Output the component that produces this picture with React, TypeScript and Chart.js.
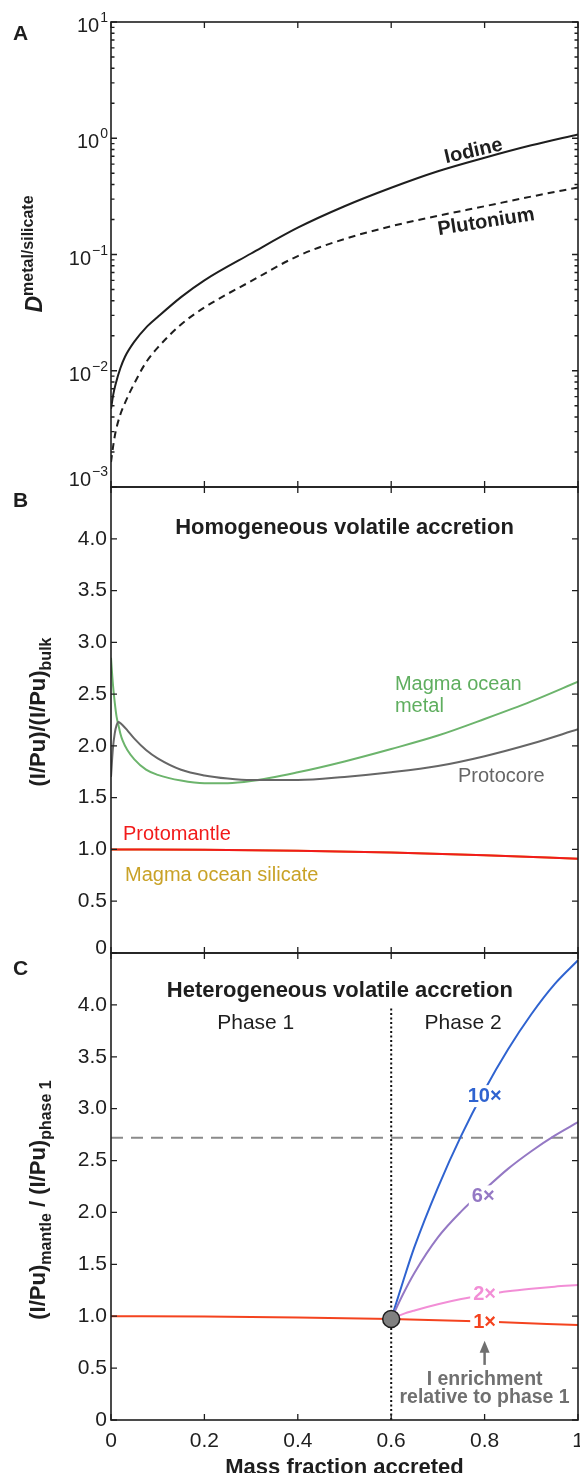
import React, { useEffect, useRef } from 'react';
import { Chart, registerables } from 'chart.js';

Chart.register(...registerables);

const FONT = '"Liberation Sans", Arial, Helvetica, sans-serif';
const INK = '#1e1e1e';

// ---------------- Panel A data ----------------
const massFractionA = [0, 0.005, 0.01, 0.02, 0.03, 0.05, 0.075, 0.1, 0.15, 0.2, 0.3, 0.4, 0.5, 0.6, 0.7, 0.8, 0.9, 1.0];
const iodineD = [0.0047, 0.0063, 0.0077, 0.0105, 0.0132, 0.0178, 0.0235, 0.029, 0.043, 0.06, 0.102, 0.17, 0.26, 0.375, 0.52, 0.68, 0.87, 1.08];
const plutoniumD = [0.00164, 0.0023, 0.003, 0.0042, 0.0053, 0.0078, 0.0118, 0.0158, 0.025, 0.035, 0.059, 0.097, 0.136, 0.175, 0.215, 0.26, 0.315, 0.377];
const logTickValues = [0.001, 0.01, 0.1, 1, 10];
const logTickExponents = ['\u22123', '\u22122', '\u22121', '0', '1'];

// ---------------- Panel B data ----------------
const massFractionB = [0, 0.004, 0.008, 0.012, 0.016, 0.02, 0.025, 0.035, 0.05, 0.075, 0.1, 0.15, 0.2, 0.25, 0.3, 0.4, 0.5, 0.6, 0.7, 0.8, 0.9, 1.0];
const magmaOceanMetal = [2.85, 2.6, 2.42, 2.28, 2.2, 2.12, 2.05, 1.96, 1.87, 1.77, 1.72, 1.665, 1.64, 1.64, 1.66, 1.745, 1.85, 1.97, 2.1, 2.26, 2.43, 2.62];
const protocore = [1.7, 1.97, 2.12, 2.2, 2.23, 2.22, 2.2, 2.15, 2.07, 1.96, 1.88, 1.77, 1.715, 1.685, 1.67, 1.67, 1.7, 1.745, 1.805, 1.9, 2.02, 2.16];
const massFractionMantle = [0, 0.2, 0.4, 0.6, 0.8, 1.0];
const protomantle = [1.0, 0.997, 0.987, 0.97, 0.945, 0.91];
const magmaOceanSilicate = [1.0, 0.997, 0.987, 0.97, 0.945, 0.91];

// ---------------- Panel C data ----------------
const massFractionPhase1 = [0, 0.2, 0.4, 0.6, 0.8, 1.0];
const mantle1x = [1.0, 0.997, 0.988, 0.973, 0.948, 0.915];
const massFractionPhase2 = [0.6, 0.625, 0.65, 0.7, 0.75, 0.8, 0.85, 0.9, 0.95, 1.0];
const mantle10x = [0.973, 1.33, 1.67, 2.24, 2.74, 3.18, 3.57, 3.91, 4.2, 4.43];
const mantle6x = [0.973, 1.21, 1.42, 1.76, 2.01, 2.22, 2.42, 2.59, 2.74, 2.87];
const mantle2x = [0.973, 1.02, 1.055, 1.115, 1.165, 1.205, 1.24, 1.265, 1.285, 1.3];
const referenceLevel = 2.72;
const phaseBoundary = 0.6;
const boundaryTop = 3.97;
const junctionValue = 0.973;

// ---------------- ticks ----------------
const xTicks = [0, 0.2, 0.4, 0.6, 0.8, 1];
const xTickLabels = ['0', '0.2', '0.4', '0.6', '0.8', '1'];
const ratioTicks = [0, 0.5, 1, 1.5, 2, 2.5, 3, 3.5, 4];
const ratioTickLabels = ['0', '0.5', '1.0', '1.5', '2.0', '2.5', '3.0', '3.5', '4.0'];

const pts = (xs: number[], ys: number[]) => xs.map((x, i) => ({ x, y: ys[i] }));
const lookup = (vals: number[], labels: string[], v: number) => {
  const i = vals.findIndex((t) => Math.abs(t - v) < 1e-9);
  return i >= 0 ? labels[i] : '';
};

function drawText(ctx: any, s: string, x: number, y: number, font: string, color: string, align = 'left', rot = 0, bg = false) {
  ctx.save();
  ctx.translate(x, y);
  if (rot) ctx.rotate((rot * Math.PI) / 180);
  ctx.font = font;
  ctx.textAlign = align;
  ctx.textBaseline = 'alphabetic';
  if (bg) {
    const w = ctx.measureText(s).width;
    const x0 = align === 'center' ? -w / 2 : align === 'right' ? -w : 0;
    ctx.fillStyle = '#ffffff';
    ctx.fillRect(x0 - 3, -17, w + 6, 22);
  }
  ctx.fillStyle = color;
  ctx.fillText(s, 0, 0);
  ctx.restore();
}

type Part = { t: string; font: string; dy: number };
function drawVTitle(ctx: any, parts: Part[], bx: number, cy: number) {
  ctx.save();
  let total = 0;
  const ws = parts.map((p) => {
    ctx.font = p.font;
    const w = ctx.measureText(p.t).width;
    total += w;
    return w;
  });
  ctx.translate(bx, cy);
  ctx.rotate(-Math.PI / 2);
  ctx.textAlign = 'left';
  ctx.textBaseline = 'alphabetic';
  ctx.fillStyle = INK;
  let u = -total / 2;
  parts.forEach((p, i) => {
    ctx.font = p.font;
    ctx.fillText(p.t, u, p.dy);
    u += ws[i];
  });
  ctx.restore();
}

function drawFrame(chart: any, yMajor: number[], yMinor: number[]) {
  const { ctx, chartArea: a } = chart;
  const sx = chart.scales.x;
  const sy = chart.scales.y;
  ctx.save();
  ctx.strokeStyle = INK;
  ctx.lineWidth = 1.3;
  ctx.beginPath();
  xTicks.forEach((v) => {
    const p = sx.getPixelForValue(v);
    ctx.moveTo(p, a.bottom);
    ctx.lineTo(p, a.bottom - 6);
    ctx.moveTo(p, a.top);
    ctx.lineTo(p, a.top + 6);
  });
  yMajor.forEach((v) => {
    const p = sy.getPixelForValue(v);
    ctx.moveTo(a.left, p);
    ctx.lineTo(a.left + 6, p);
    ctx.moveTo(a.right, p);
    ctx.lineTo(a.right - 6, p);
  });
  yMinor.forEach((v) => {
    const p = sy.getPixelForValue(v);
    ctx.moveTo(a.left, p);
    ctx.lineTo(a.left + 3.5, p);
    ctx.moveTo(a.right, p);
    ctx.lineTo(a.right - 3.5, p);
  });
  ctx.stroke();
  ctx.lineWidth = 1.6;
  ctx.strokeRect(a.left, a.top, a.right - a.left, a.bottom - a.top);
  ctx.restore();
}

const lineDs = (data: any[], color: string, extra: any = {}) => ({
  data,
  borderColor: color,
  backgroundColor: color,
  borderWidth: 2,
  pointRadius: 0,
  fill: false,
  cubicInterpolationMode: 'monotone',
  ...extra,
});

const baseOptions = (padding: any, scales: any) => ({
  responsive: false,
  animation: false,
  events: [],
  layout: { padding, autoPadding: false },
  plugins: { legend: { display: false }, tooltip: { enabled: false } },
  scales,
});

// skipZero: the lowest label of panel B is drawn by hand, nudged up off the shared frame
const ratioAxis = (skipZero: boolean) => ({
  type: 'linear',
  min: 0,
  max: 4.5,
  grid: { display: false, drawTicks: false },
  border: { display: false },
  ticks: {
    font: { family: FONT, size: 21 },
    color: INK,
    padding: 4,
    autoSkip: false,
    callback: (v: number) => (skipZero && v === 0 ? '' : lookup(ratioTicks, ratioTickLabels, v)),
  },
  afterBuildTicks: (s: any) => {
    s.ticks = ratioTicks.map((v) => ({ value: v }));
  },
  afterFit: (s: any) => {
    s.width = 111;
    s.paddingTop = 0;
    s.paddingBottom = 0;
  },
});

function buildA(canvas: HTMLCanvasElement) {
  const minor: number[] = [];
  for (let e = -3; e < 1; e++) for (let k = 2; k <= 9; k++) minor.push(k * Math.pow(10, e));
  return new Chart(canvas, {
    type: 'line',
    data: {
      datasets: [
        lineDs(pts(massFractionA, iodineD), INK),
        lineDs(pts(massFractionA, plutoniumD), INK, { borderDash: [7, 5] }),
      ],
    },
    options: baseOptions({ left: 111, right: 2, top: 22, bottom: 3 }, {
      x: { type: 'linear', min: 0, max: 1, display: false },
      y: { type: 'logarithmic', min: 0.001, max: 10, display: false },
    }),
    plugins: [
      {
        id: 'decoA',
        afterDatasetsDraw(chart: any) {
          const { ctx, chartArea: a } = chart;
          const sx = chart.scales.x;
          const sy = chart.scales.y;
          drawText(ctx, 'Iodine', sx.getPixelForValue(0.779), sy.getPixelForValue(0.8) + 7, `bold 20px ${FONT}`, INK, 'center', -13);
          drawText(ctx, 'Plutonium', sx.getPixelForValue(0.805), sy.getPixelForValue(0.196) + 7, `bold 20px ${FONT}`, INK, 'center', -9);
          drawFrame(chart, logTickValues, minor);
          logTickValues.forEach((v, i) => {
            const y = sy.getPixelForValue(v);
            const base = Math.min(y + 10, a.bottom - 1);
            ctx.save();
            ctx.font = `20px ${FONT}`;
            const w10 = ctx.measureText('10').width;
            ctx.font = `14px ${FONT}`;
            const we = ctx.measureText(logTickExponents[i]).width;
            const x0 = 107 - w10 - we;
            ctx.fillStyle = INK;
            ctx.textAlign = 'left';
            ctx.textBaseline = 'alphabetic';
            ctx.font = `20px ${FONT}`;
            ctx.fillText('10', x0, base);
            ctx.font = `14px ${FONT}`;
            ctx.fillText(logTickExponents[i], x0 + w10 + 1, base - 10);
            ctx.restore();
          });
          drawText(ctx, 'A', 13, 40, `bold 21px ${FONT}`, INK);
          drawVTitle(ctx, [
            { t: 'D', font: `italic bold 23px ${FONT}`, dy: 0 },
            { t: 'metal/silicate', font: `bold 16px ${FONT}`, dy: -9 },
          ], 42, 254);
        },
      },
    ],
  } as any);
}

function buildB(canvas: HTMLCanvasElement) {
  return new Chart(canvas, {
    type: 'line',
    data: {
      datasets: [
        lineDs(pts(massFractionMantle, protomantle), '#f21b1b', { order: 1 }),
        lineDs(pts(massFractionB, protocore), '#666666', { order: 2 }),
        lineDs(pts(massFractionB, magmaOceanMetal), '#6cb46c', { order: 3 }),
        lineDs(pts(massFractionMantle, magmaOceanSilicate), '#c9a227', { order: 4 }),
      ],
    },
    options: baseOptions({ left: 0, right: 2, top: 7, bottom: 7 }, {
      x: { type: 'linear', min: 0, max: 1, display: false },
      y: ratioAxis(true),
    }),
    plugins: [
      {
        id: 'decoB',
        afterDatasetsDraw(chart: any) {
          const { ctx } = chart;
          const sx = chart.scales.x;
          const sy = chart.scales.y;
          const X = (v: number) => sx.getPixelForValue(v);
          const Y = (v: number) => sy.getPixelForValue(v);
          drawText(ctx, 'Homogeneous volatile accretion', X(0.5), Y(4.05), `bold 22px ${FONT}`, INK, 'center');
          drawText(ctx, 'Magma ocean', X(0.608), Y(2.54), `20px ${FONT}`, '#5fae5f');
          drawText(ctx, 'metal', X(0.608), Y(2.33), `20px ${FONT}`, '#5fae5f');
          drawText(ctx, 'Protocore', X(0.743), Y(1.655), `20px ${FONT}`, '#666666');
          drawText(ctx, 'Protomantle', X(0.0257), Y(1.09), `20px ${FONT}`, '#f21b1b');
          drawText(ctx, 'Magma ocean silicate', X(0.03), Y(0.696), `20px ${FONT}`, '#c9a227');
          drawFrame(chart, ratioTicks, []);
          drawText(ctx, ratioTickLabels[0], 107, Y(ratioTicks[0]) + 1, `21px ${FONT}`, INK, 'right');
          drawText(ctx, 'B', 13, 27, `bold 21px ${FONT}`, INK);
          drawVTitle(ctx, [
            { t: '(I/Pu)/(I/Pu)', font: `bold 22px ${FONT}`, dy: 0 },
            { t: 'bulk', font: `bold 16px ${FONT}`, dy: 6 },
          ], 45, 232);
        },
      },
    ],
  } as any);
}

function buildC(canvas: HTMLCanvasElement) {
  const orange = '#f4431f';
  const blue = '#2f63d0';
  const purple = '#9478c4';
  const pink = '#f28ed6';
  return new Chart(canvas, {
    type: 'line',
    data: {
      datasets: [
        { data: [{ x: phaseBoundary, y: junctionValue }], showLine: false, pointRadius: 8.5, pointBackgroundColor: '#808080', pointBorderColor: INK, pointBorderWidth: 1.5, order: 0 },
        lineDs(pts(massFractionPhase1, mantle1x), orange, { order: 1 }),
        lineDs(pts(massFractionPhase2, mantle2x), pink, { order: 2 }),
        lineDs(pts(massFractionPhase2, mantle6x), purple, { order: 3 }),
        lineDs(pts(massFractionPhase2, mantle10x), blue, { order: 4 }),
        lineDs([{ x: phaseBoundary, y: 0 }, { x: phaseBoundary, y: boundaryTop }], '#111111', { borderDash: [2, 2.5], cubicInterpolationMode: 'default', order: 5 }),
        lineDs([{ x: 0, y: referenceLevel }, { x: 1, y: referenceLevel }], '#8a8a8a', { borderDash: [12, 8], cubicInterpolationMode: 'default', order: 6 }),
      ],
    },
    options: baseOptions({ left: 0, right: 2, top: 7, bottom: 53 }, {
      x: { type: 'linear', min: 0, max: 1, display: false },
      y: ratioAxis(false),
    }),
    plugins: [
      {
        id: 'decoC',
        afterDatasetsDraw(chart: any) {
          const { ctx, chartArea: a } = chart;
          const sx = chart.scales.x;
          const sy = chart.scales.y;
          const X = (v: number) => sx.getPixelForValue(v);
          const Y = (v: number) => sy.getPixelForValue(v);
          drawText(ctx, 'Heterogeneous volatile accretion', X(0.49), Y(4.077), `bold 22px ${FONT}`, INK, 'center');
          drawText(ctx, 'Phase 1', X(0.31), Y(3.768), `21px ${FONT}`, INK, 'center');
          drawText(ctx, 'Phase 2', X(0.754), Y(3.768), `21px ${FONT}`, INK, 'center');
          drawText(ctx, '10\u00d7', X(0.8), Y(3.063), `bold 20px ${FONT}`, blue, 'center', 0, true);
          drawText(ctx, '6\u00d7', X(0.797), Y(2.097), `bold 20px ${FONT}`, purple, 'center', 0, true);
          drawText(ctx, '2\u00d7', X(0.8), Y(1.16), `bold 20px ${FONT}`, pink, 'center', 0, true);
          drawText(ctx, '1\u00d7', X(0.8), Y(0.889), `bold 20px ${FONT}`, orange, 'center', 0, true);
          const ax = X(0.8);
          const tip = Y(0.763);
          ctx.save();
          ctx.strokeStyle = '#707070';
          ctx.fillStyle = '#707070';
          ctx.lineWidth = 2.5;
          ctx.beginPath();
          ctx.moveTo(ax, Y(0.531));
          ctx.lineTo(ax, tip + 10);
          ctx.stroke();
          ctx.beginPath();
          ctx.moveTo(ax, tip);
          ctx.lineTo(ax - 5, tip + 12);
          ctx.lineTo(ax + 5, tip + 12);
          ctx.closePath();
          ctx.fill();
          ctx.restore();
          drawText(ctx, 'I enrichment', X(0.8), Y(0.338), `bold 19.5px ${FONT}`, '#707070', 'center');
          drawText(ctx, 'relative to phase 1', X(0.8), Y(0.164), `bold 19.5px ${FONT}`, '#707070', 'center');
          drawFrame(chart, ratioTicks, []);
          xTicks.forEach((v, i) => {
            drawText(ctx, xTickLabels[i], X(v), a.bottom + 27, `21px ${FONT}`, INK, 'center');
          });
          drawText(ctx, 'C', 13, 29, `bold 21px ${FONT}`, INK);
          drawVTitle(ctx, [
            { t: '(I/Pu)', font: `bold 22px ${FONT}`, dy: 0 },
            { t: 'mantle', font: `bold 16px ${FONT}`, dy: 6 },
            { t: ' / (I/Pu)', font: `bold 22px ${FONT}`, dy: 0 },
            { t: 'phase 1', font: `bold 16px ${FONT}`, dy: 6 },
          ], 45, 254);
          drawText(ctx, 'Mass fraction accreted', (a.left + a.right) / 2, a.bottom + 54, `bold 22px ${FONT}`, INK, 'center');
        },
      },
    ],
  } as any);
}

function ChartCanvas({ top, height, build }: { top: number; height: number; build: (c: HTMLCanvasElement) => any }) {
  const ref = useRef<HTMLCanvasElement | null>(null);
  useEffect(() => {
    if (!ref.current) return;
    const chart = build(ref.current);
    return () => chart.destroy();
  }, [build]);
  return (
    <canvas
      ref={ref}
      width={580}
      height={height}
      style={{ position: 'absolute', left: 0, top, width: 580, height }}
    />
  );
}

export default function App() {
  useEffect(() => {
    document.body.style.margin = '0';
    document.body.style.background = '#ffffff';
  }, []);
  return (
    <div style={{ position: 'relative', width: 580, height: 1473, background: '#ffffff', overflow: 'hidden' }}>
      <ChartCanvas top={0} height={490} build={buildA} />
      <ChartCanvas top={480} height={480} build={buildB} />
      <ChartCanvas top={946} height={527} build={buildC} />
    </div>
  );
}
